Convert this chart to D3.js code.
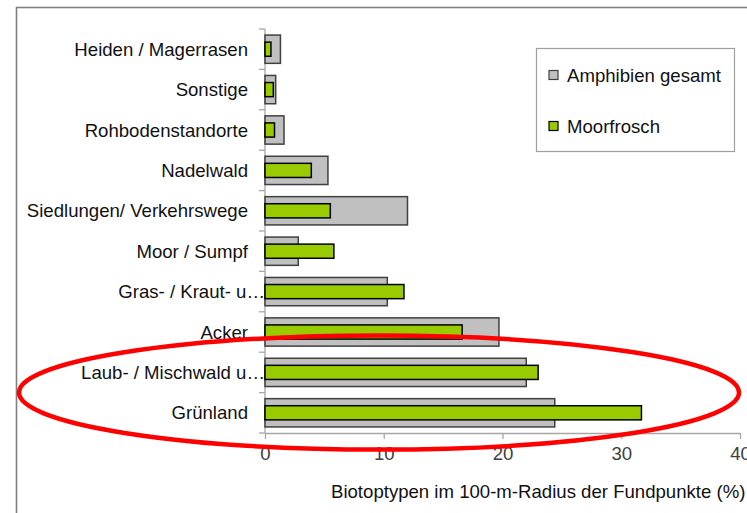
<!DOCTYPE html>
<html>
<head>
<meta charset="utf-8">
<script src="https://cdnjs.cloudflare.com/ajax/libs/d3/7.8.5/d3.min.js"></script>
<style>
  body { margin: 0; background: #fff; }
  text { font-family: "Liberation Sans", Arial, sans-serif; }
</style>
</head>
<body>
<div id="chart-area"></div>
<script>
// Data (top to bottom as drawn)
var categories = ["Heiden / Magerrasen", "Sonstige", "Rohbodenstandorte", "Nadelwald",
    "Siedlungen/ Verkehrswege", "Moor / Sumpf", "Gras- / Kraut- u\u2026", "Acker",
    "Laub- / Mischwald u\u2026", "Grünland"];
var amphibienGesamt = [1.3, 0.9, 1.6, 5.3, 12.0, 2.8, 10.3, 19.7, 22.0, 24.4];
var moorfrosch = [0.5, 0.7, 0.8, 3.9, 5.5, 5.8, 11.7, 16.6, 23.0, 31.7];
var xTicks = [0, 10, 20, 30, 40];
var seriesNames = ["Amphibien gesamt", "Moorfrosch"];
var seriesColors = ["#c0c0c0", "#99cc00"];

var width = 747, height = 513;
var fontSize = "18.6px";

var svg = d3.select("#chart-area")
    .append("svg")
    .attr("width", width)
    .attr("height", height);

// outer chart frame (runs off the right / bottom edge)
svg.append("rect")
    .attr("x", 16.5)
    .attr("y", 7.5)
    .attr("width", 760)
    .attr("height", 520)
    .attr("fill", "#fff")
    .attr("stroke", "#808080")
    .attr("stroke-width", 1.6);

var x = d3.scaleLinear()
    .domain([0, 40])
    .range([265, 740]);

var y = d3.scaleBand()
    .domain(categories)
    .range([29, 433])
    .padding(0);

var bw = y.bandwidth();

// x axis
var xAxisCall = d3.axisBottom(x)
    .tickValues(xTicks)
    .tickSize(6)
    .tickSizeOuter(0)
    .tickPadding(8);
var xAxis = svg.append("g")
    .attr("transform", "translate(0," + 433 + ")")
    .call(xAxisCall);
xAxis.select(".domain").attr("stroke", "#a6a6a6").attr("stroke-width", 1.3);
xAxis.selectAll(".tick line").attr("stroke", "#a6a6a6").attr("stroke-width", 1.3);
xAxis.selectAll(".tick text")
    .attr("font-size", fontSize)
    .attr("font-family", "Liberation Sans, Arial, sans-serif")
    .attr("fill", "#404040");

// y axis (ticks sit between categories)
var yAxis = svg.append("g");
yAxis.append("line")
    .attr("x1", x(0)).attr("x2", x(0))
    .attr("y1", y.range()[0]).attr("y2", y.range()[1])
    .attr("stroke", "#a6a6a6").attr("stroke-width", 1.3);
var boundaries = categories.map(function (c) { return y(c); }).concat([y.range()[1]]);
yAxis.selectAll(".ytick")
    .data(boundaries)
    .enter().append("line")
    .attr("x1", x(0) - 6).attr("x2", x(0))
    .attr("y1", function (d) { return d; })
    .attr("y2", function (d) { return d; })
    .attr("stroke", "#a6a6a6").attr("stroke-width", 1.3);

// truncated labels spill their dots up to the axis, like in the original
yAxis.selectAll(".ylabel")
    .data(categories)
    .enter().append("text")
    .attr("x", function (d) { return d.slice(-1) === "\u2026" ? 265 : 248; })
    .attr("y", function (d) { return y(d) + bw / 2; })
    .attr("dy", "0.35em")
    .attr("text-anchor", "end")
    .attr("font-size", fontSize)
    .attr("fill", "#111")
    .text(function (d) { return d; });

// bars: gray (wide) behind, green (narrow) in front
var grayH = bw * 0.7, greenH = bw * 0.35;

svg.selectAll(".bar-gray")
    .data(amphibienGesamt)
    .enter().append("rect")
    .attr("x", x(0))
    .attr("y", function (d, i) { return y(categories[i]) + (bw - grayH) / 2; })
    .attr("width", function (d) { return x(d) - x(0); })
    .attr("height", grayH)
    .attr("fill", seriesColors[0])
    .attr("stroke", "#404040")
    .attr("stroke-width", 1.5);

svg.selectAll(".bar-green")
    .data(moorfrosch)
    .enter().append("rect")
    .attr("x", x(0))
    .attr("y", function (d, i) { return y(categories[i]) + (bw - greenH) / 2; })
    .attr("width", function (d) { return x(d) - x(0); })
    .attr("height", greenH)
    .attr("fill", seriesColors[1])
    .attr("stroke", "#000")
    .attr("stroke-width", 1.5);

// axis title
svg.append("text")
    .attr("x", 331)
    .attr("y", 498)
    .attr("font-size", fontSize)
    .attr("fill", "#111")
    .text("Biotoptypen im 100-m-Radius der Fundpunkte (%)");

// legend
var legend = svg.append("g");
legend.append("rect")
    .attr("x", 536.5).attr("y", 48.5)
    .attr("width", 198).attr("height", 103)
    .attr("fill", "#fff")
    .attr("stroke", "#a0a0a0")
    .attr("stroke-width", 1.2);

seriesNames.forEach(function (name, i) {
    var row = legend.append("g")
        .attr("transform", "translate(0," + (75 + i * 51) + ")");
    row.append("rect")
        .attr("x", 549).attr("y", -4.5)
        .attr("width", 9).attr("height", 9)
        .attr("fill", seriesColors[i])
        .attr("stroke", i === 0 ? "#404040" : "#000")
        .attr("stroke-width", 1.2);
    row.append("text")
        .attr("x", 567)
        .attr("dy", "0.35em")
        .attr("font-size", fontSize)
        .attr("fill", "#111")
        .text(name);
});

// red highlight ellipse around the last two categories
var ellipseCy = y(categories[categories.length - 1]);
svg.append("ellipse")
    .attr("cx", 379)
    .attr("cy", ellipseCy)
    .attr("rx", 360)
    .attr("ry", 57)
    .attr("fill", "none")
    .attr("stroke", "#ff0000")
    .attr("stroke-width", 4.5);
</script>
</body>
</html>
